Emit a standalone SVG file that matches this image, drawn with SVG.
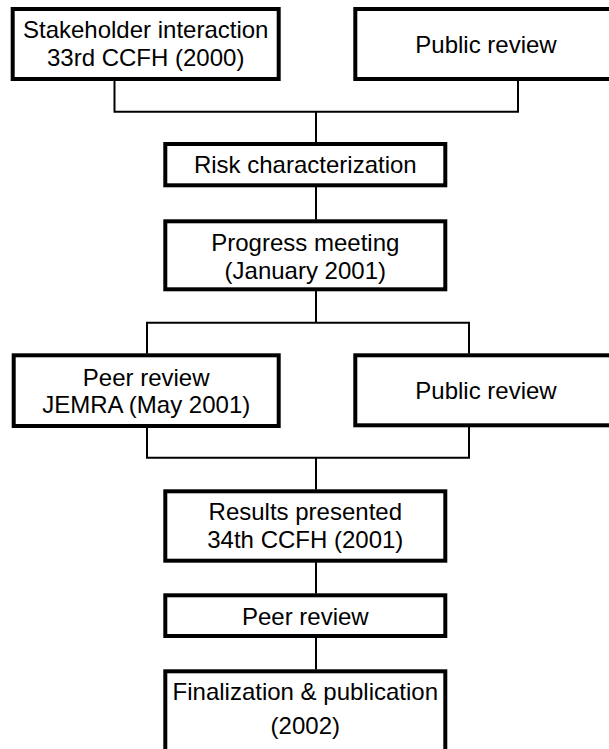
<svg xmlns="http://www.w3.org/2000/svg" width="609" height="749" viewBox="0 0 609 749">
<style>
.box{fill:#fff;stroke:#000;stroke-width:4}
.lbl{font-family:"Liberation Sans",Arial,sans-serif;font-size:24px;fill:#000;text-anchor:middle}
.con{fill:none;stroke:#000;stroke-width:2}
</style>
<rect width="609" height="749" fill="#fff"/>
<g id="connectors" class="con">
<path d="M114.5,81V111.7M518,81V111.7M113.5,111.7H519M316,111.7V142"/>
<path d="M316,187V219.5"/>
<path d="M316,291V322.7M146,322.7H470M147,322.7V353.5M469,322.7V353.5"/>
<path d="M147,428V457.7M469,427V457.7M146,457.7H470M316,457.7V489.5"/>
<path d="M316,562V593.5"/>
<path d="M316,638V669.5"/>
</g>
<g id="stakeholder">
<rect class="box" x="12.7" y="9" width="266" height="70"/>
<text class="lbl" x="145.7" y="37.5">Stakeholder interaction</text>
<text class="lbl" x="145.7" y="66">33rd CCFH (2000)</text>
</g>
<g id="public1">
<rect class="box" x="355.3" y="9" width="266" height="70"/>
<text class="lbl" x="486" y="52.5">Public review</text>
</g>
<g id="risk">
<rect class="box" x="165.3" y="144" width="280" height="41.3"/>
<text class="lbl" x="305.3" y="173">Risk characterization</text>
</g>
<g id="progress">
<rect class="box" x="165.3" y="221.3" width="280" height="68"/>
<text class="lbl" x="305.3" y="251">Progress meeting</text>
<text class="lbl" x="305.3" y="279">(January 2001)</text>
</g>
<g id="peer1">
<rect class="box" x="13.7" y="355.3" width="265" height="70.7"/>
<text class="lbl" x="146.2" y="385.5">Peer review</text>
<text class="lbl" x="146.2" y="413">JEMRA (May 2001)</text>
</g>
<g id="public2">
<rect class="box" x="355.3" y="355.3" width="266" height="70"/>
<text class="lbl" x="486" y="398.5">Public review</text>
</g>
<g id="results">
<rect class="box" x="165.3" y="491.3" width="280" height="69.4"/>
<text class="lbl" x="305.3" y="520">Results presented</text>
<text class="lbl" x="305.3" y="548.3">34th CCFH (2001)</text>
</g>
<g id="peer2">
<rect class="box" x="165.3" y="595.3" width="280" height="40.7"/>
<text class="lbl" x="305.3" y="624.5">Peer review</text>
</g>
<g id="final">
<rect class="box" x="165.3" y="671.3" width="280" height="100"/>
<text class="lbl" x="305.3" y="700">Finalization &amp; publication</text>
<text class="lbl" x="305.3" y="734">(2002)</text>
</g>
</svg>
